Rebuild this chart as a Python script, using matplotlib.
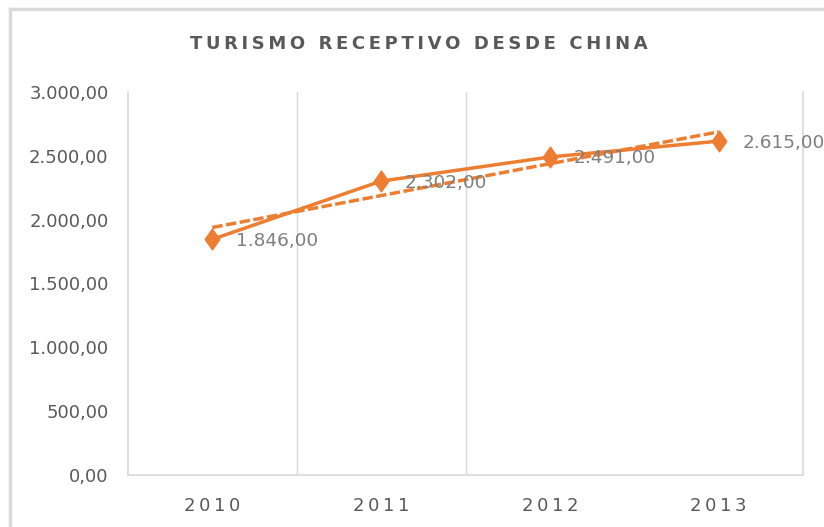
import numpy as np
import matplotlib
matplotlib.use("Agg")
import matplotlib.pyplot as plt
from matplotlib.path import Path
from matplotlib.lines import Line2D

years = ["2010", "2011", "2012", "2013"]
values = [1846.0, 2302.0, 2491.0, 2615.0]
yticks = [0, 500, 1000, 1500, 2000, 2500, 3000]
title = "TURISMO RECEPTIVO DESDE CHINA"

ORANGE = "#ED7D31"
GRID = "#D9D9D9"
TXT = "#595959"
LBL = "#7F7F7F"

def fmt(v):
    s = f"{v:,.2f}"
    return s.replace(",", "X").replace(".", ",").replace("X", ".")

def spaced(s, sp="\u200a"):
    return sp.join(list(s))

plt.rcParams['font.family'] = ['DejaVu Sans']

fig = plt.figure(figsize=(8.24, 5.27), dpi=100)
ax = fig.add_axes([128/824, 52/527, (803-128)/824, (475-92)/527])

x = np.arange(len(years))
diamond = Path([(0, 1), (0.7, 0), (0, -1), (-0.7, 0), (0, 1)],
               [Path.MOVETO, Path.LINETO, Path.LINETO, Path.LINETO, Path.CLOSEPOLY])

ax.plot(x, values, color=ORANGE, lw=2.5, marker=diamond, ms=15,
        mfc=ORANGE, mec=ORANGE, zorder=3, solid_capstyle='round')

# linear trendline
coef = np.polyfit(x, values, 1)
trend = np.polyval(coef, x)
ax.plot(x, trend, color=ORANGE, lw=2.5, ls=(0, (3.0, 1.0)), zorder=2)

for xi, v in zip(x, values):
    ax.annotate(fmt(v), (xi, v), xytext=(17, -1), textcoords='offset points',
                ha='left', va='center', fontsize=13.3, color=LBL, zorder=4,
                annotation_clip=False)

ax.set_xlim(-0.5, 3.5)
ax.set_ylim(0, 3000)
ax.set_yticks(yticks)
ax.set_yticklabels([fmt(v) for v in yticks], fontsize=13, color=TXT)
ax.set_xticks(x)
ax.set_xticklabels([spaced(y, "\u2009") for y in years], fontsize=13, color=TXT)
ax.tick_params(axis='y', length=0, pad=14)
ax.tick_params(axis='x', length=0, pad=16)

for v in [0.5, 1.5]:
    ax.axvline(v, color=GRID, lw=1, zorder=1)
for s in ['left', 'right', 'bottom']:
    ax.spines[s].set_color(GRID)
    ax.spines[s].set_linewidth(1.2)
ax.spines['top'].set_visible(False)

fig.text(419/824, 1-44/527, spaced(title, "\u2009"), ha='center', va='center',
         fontsize=13, fontweight='bold', color=TXT)

# chart border (top and left visible)
fig.add_artist(Line2D([10/824, 1], [1-9/527, 1-9/527], color=GRID, lw=2.5,
                      transform=fig.transFigure))
fig.add_artist(Line2D([10/824, 10/824], [0, 1-9/527], color=GRID, lw=2.5,
                      transform=fig.transFigure))

fig.savefig("out.png", dpi=100)
